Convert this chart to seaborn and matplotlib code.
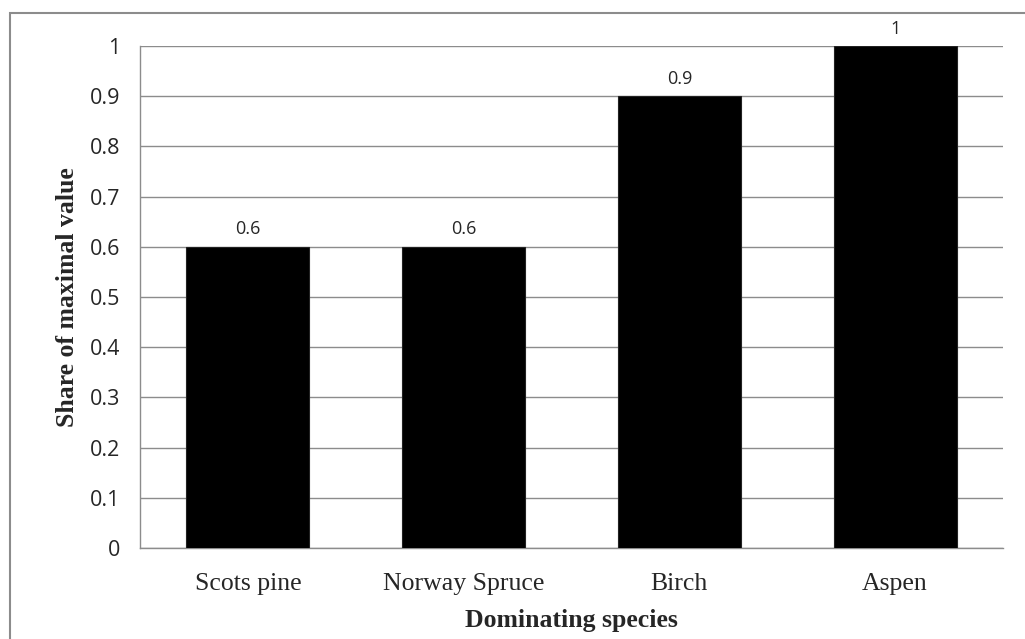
import pandas as pd
import seaborn as sns
import matplotlib.pyplot as plt
from matplotlib.patches import Rectangle

species = ['Scots pine', 'Norway Spruce', 'Birch', 'Aspen']
share = [0.6, 0.6, 0.9, 1.0]
value_labels = ['0.6', '0.6', '0.9', '1']
yticks = [0, 0.1, 0.2, 0.3, 0.4, 0.5, 0.6, 0.7, 0.8, 0.9, 1.0]
ytick_labels = ['0', '0.1', '0.2', '0.3', '0.4', '0.5', '0.6', '0.7', '0.8', '0.9', '1']

data = pd.DataFrame({'species': species, 'share': share})

sns.set_style('white')
grey = '#8c8c8c'

fig = plt.figure(figsize=(10.25, 6.39), dpi=100)
ax = fig.add_axes([140 / 1025, 1 - 548 / 639, 863 / 1025, 502 / 639])

sns.barplot(data, x='species', y='share', color='black', width=0.57,
            edgecolor='#222222', linewidth=0.8, ax=ax, zorder=3)
ax.bar_label(ax.containers[0], labels=value_labels, padding=6,
             fontsize=13, family='Open Sans')

ax.set_ylim(0, 1)
ax.set_xlim(-0.5, 3.5)
ax.set_yticks(yticks)
ax.set_yticklabels(ytick_labels, family='Open Sans', fontsize=15.5)
ax.set_xticks(range(len(species)))
ax.set_xticklabels(species, family='Liberation Serif', fontsize=18.5)
ax.tick_params(axis='y', length=8, color=grey, width=1, pad=6)
ax.tick_params(axis='x', length=0, pad=18)
ax.yaxis.grid(True, color=grey, linewidth=1)
ax.set_axisbelow(True)
for side in ['top', 'right']:
    ax.spines[side].set_visible(False)
for side in ['left', 'bottom']:
    ax.spines[side].set_color(grey)
    ax.spines[side].set_linewidth(1)

ax.set_xlabel('Dominating species', family='Liberation Serif', fontsize=18.5,
              fontweight='bold', labelpad=10)
ax.set_ylabel('Share of maximal value', family='Liberation Serif', fontsize=18.5,
              fontweight='bold', labelpad=8)

# outer chart border
fig.patches.append(Rectangle((10 / 1025, -0.05), 1.1, 1 - 13 / 639 + 0.05,
                             transform=fig.transFigure, fill=False,
                             edgecolor=grey, linewidth=1.5))

fig.savefig('out.png', dpi=100)
